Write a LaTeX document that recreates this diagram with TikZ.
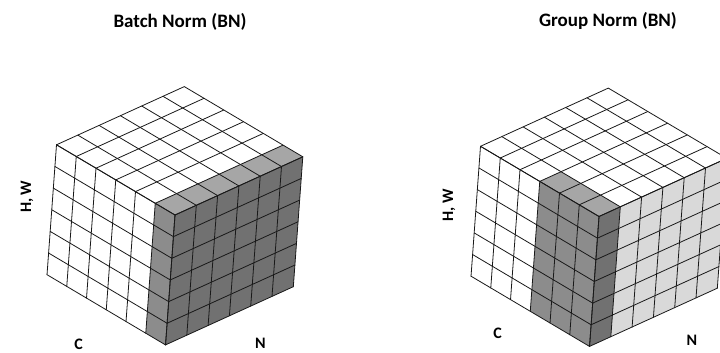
\documentclass[tikz,border=0pt]{standalone}
\usepackage{fontspec}
\setmainfont{Carlito}
\definecolor{gL}{HTML}{8C8C8C}
\definecolor{gR}{HTML}{717171}
\definecolor{gT}{HTML}{A6A6A6}
\definecolor{gX}{HTML}{D9D9D9}
\tikzset{
  cell/.style={draw=black!90, line width=0.8pt, line cap=round, line join=round},
  title/.style={font=\fontsize{19}{22}\selectfont\bfseries, anchor=base, inner sep=0pt},
  axislabel/.style={font=\fontsize{16}{19}\selectfont\bfseries, inner sep=0pt},
  cubeaxes/.style={x={(19.75pt,-11.7pt)}, y={(21.3pt,9.7pt)}, z={(-1.58pt,-21.65pt)}}
}
\newcommand\tensorgrid{%
  \foreach \t in {0,...,6}{
    \draw[cell] (\t-6,0,0) -- (\t-6,0,6);
    \draw[cell] (-6,0,\t) -- (0,0,\t);
    \draw[cell] (0,\t,0) -- (0,\t,6);
    \draw[cell] (0,0,\t) -- (0,6,\t);
    \draw[cell] (\t-6,0,0) -- (\t-6,6,0);
    \draw[cell] (-6,\t,0) -- (0,\t,0);
  }}
\begin{document}
\begin{tikzpicture}[x=1pt,y=-1pt]
\useasboundingbox (0,0) rectangle (720,353);
\clip (0,0) rectangle (720,353);
\fill[white] (0,0) rectangle (720,353);

% titles
\node[title] (tbn) at (180,27.3) {Batch Norm (BN)};
\node[title] (tgn) at (608,27) {Group Norm (BN)};

% Batch Norm cube
\begin{scope}[shift={(175,215)}]
\begin{scope}[cubeaxes]
  \fill[white] (-6,0,0) -- (0,0,0) -- (0,0,6) -- (-6,0,6) -- cycle;
  \fill[gL] (-1,0,0) -- (0,0,0) -- (0,0,6) -- (-1,0,6) -- cycle;
  \fill[gR] (0,0,0) -- (0,6,0) -- (0,6,6) -- (0,0,6) -- cycle;
  \fill[white] (-6,0,0) -- (0,0,0) -- (0,6,0) -- (-6,6,0) -- cycle;
  \fill[gT] (-1,0,0) -- (0,0,0) -- (0,6,0) -- (-1,6,0) -- cycle;
  \tensorgrid
\end{scope}
\end{scope}

% Group Norm cube
\begin{scope}[shift={(599,216.5)}]
\begin{scope}[cubeaxes]
  \fill[white] (-6,0,0) -- (0,0,0) -- (0,0,6) -- (-6,0,6) -- cycle;
  \fill[gL] (-3,0,0) -- (0,0,0) -- (0,0,6) -- (-3,0,6) -- cycle;
  \fill[gX] (0,0,0) -- (0,6,0) -- (0,6,6) -- (0,0,6) -- cycle;
  \fill[gR] (0,0,0) -- (0,1,0) -- (0,1,6) -- (0,0,6) -- cycle;
  \fill[white] (-6,0,0) -- (0,0,0) -- (0,6,0) -- (-6,6,0) -- cycle;
  \fill[gT] (-3,0,0) -- (0,0,0) -- (0,1,0) -- (-3,1,0) -- cycle;
  \tensorgrid
\end{scope}
\end{scope}

% axis labels
\node[axislabel, rotate=90] (hwl) at (27,196.7) {H, W};
\node[axislabel, anchor=base] (cl) at (78.5,349) {C};
\node[axislabel, anchor=base] (nl) at (260.5,348) {N};
\node[axislabel, rotate=90] (hwr) at (449,205) {H, W};
\node[axislabel, anchor=base] (cr) at (497.7,338.3) {C};
\node[axislabel, anchor=base] (nr) at (692,345) {N};
\end{tikzpicture}
\end{document}
